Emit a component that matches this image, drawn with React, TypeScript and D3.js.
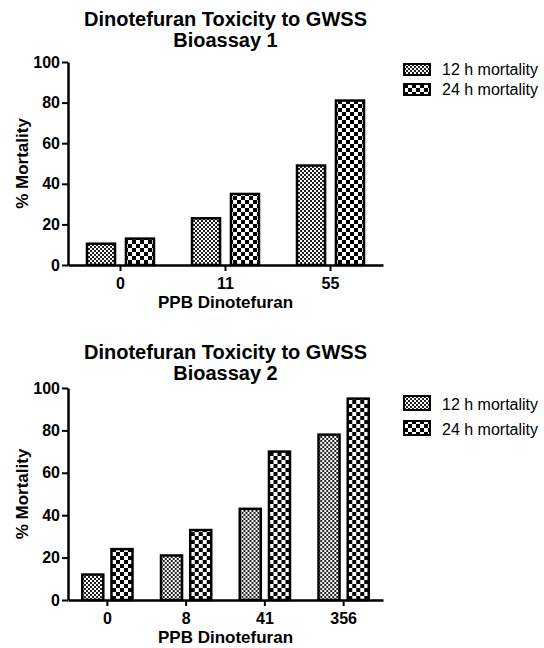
import React, { useEffect, useRef } from "react";
import * as d3 from "d3";

// Bioassay 1
const doses1 = ["0", "11", "55"];
const mort12h1 = [10.5, 23, 49];
const mort24h1 = [13, 35, 81];

// Bioassay 2
const doses2 = ["0", "8", "41", "356"];
const mort12h2 = [12, 21, 43, 78];
const mort24h2 = [24, 33, 70, 95];

const seriesNames = ["12 h mortality", "24 h mortality"];
const yTickValues = [0, 20, 40, 60, 80, 100];

const FONT = "'Liberation Sans', Arial, Helvetica, sans-serif";

const panels = [
  {
    title: "Dinotefuran Toxicity to GWSS",
    subtitle: "Bioassay 1",
    doses: doses1,
    values: [mort12h1, mort24h1],
    y0: 265,
    y100: 62,
    titleY: 26,
    subtitleY: 47,
    legendY: [64, 84],
    legendH: 11,
  },
  {
    title: "Dinotefuran Toxicity to GWSS",
    subtitle: "Bioassay 2",
    doses: doses2,
    values: [mort12h2, mort24h2],
    y0: 600,
    y100: 388,
    titleY: 359,
    subtitleY: 380,
    legendY: [396, 421],
    legendH: 14,
  },
];

const App = () => {
  const svgRef = useRef<SVGSVGElement>(null);

  useEffect(() => {
    const svg = d3.select(svgRef.current);
    svg.selectAll("*").remove();

    const defs = svg.append("defs");

    // fine checker for 12 h
    const p12 = defs
      .append("pattern")
      .attr("id", "pat12")
      .attr("patternUnits", "userSpaceOnUse")
      .attr("width", 4)
      .attr("height", 4);
    p12.append("rect").attr("width", 4).attr("height", 4).attr("fill", "#fff");
    p12.append("rect").attr("width", 2).attr("height", 2).attr("fill", "#222");
    p12
      .append("rect")
      .attr("x", 2)
      .attr("y", 2)
      .attr("width", 2)
      .attr("height", 2)
      .attr("fill", "#222");

    // coarse checker for 24 h
    const p24 = defs
      .append("pattern")
      .attr("id", "pat24")
      .attr("patternUnits", "userSpaceOnUse")
      .attr("width", 8)
      .attr("height", 8);
    p24.append("rect").attr("width", 8).attr("height", 8).attr("fill", "#fff");
    p24.append("rect").attr("width", 4).attr("height", 4).attr("fill", "#000");
    p24
      .append("rect")
      .attr("x", 4)
      .attr("y", 4)
      .attr("width", 4)
      .attr("height", 4)
      .attr("fill", "#000");

    const fills = ["url(#pat12)", "url(#pat24)"];
    const left = 68;
    const right = 383;

    panels.forEach((p) => {
      const g = svg.append("g");

      const x0 = d3
        .scaleBand()
        .domain(p.doses)
        .range([left, right])
        .paddingInner(0)
        .paddingOuter(0);

      const bw = x0.bandwidth();
      const x1 = d3
        .scaleBand()
        .domain(seriesNames)
        .range([bw * 0.181, bw * 0.819])
        .paddingInner(0.28)
        .paddingOuter(0);

      const y = d3.scaleLinear().domain([0, 100]).range([p.y0, p.y100]);

      // Bars
      const rows = p.doses.map((d, i) =>
        seriesNames.map((s, k) => ({ dose: d, key: s, k, value: p.values[k][i] }))
      );

      g.append("g")
        .selectAll("g")
        .data(rows)
        .join("g")
        .attr("transform", (d) => `translate(${x0(d[0].dose)},0)`)
        .selectAll("rect")
        .data((d) => d)
        .join("rect")
        .attr("x", (d) => x1(d.key)!)
        .attr("y", (d) => y(d.value))
        .attr("width", x1.bandwidth())
        .attr("height", (d) => p.y0 - y(d.value))
        .attr("fill", (d) => fills[d.k])
        .attr("stroke", "#000")
        .attr("stroke-width", 2.5);

      // Y axis
      const yAxis = g
        .append("g")
        .attr("transform", `translate(${left},0)`)
        .call(
          d3
            .axisLeft(y)
            .tickValues(yTickValues)
            .tickSize(6)
            .tickSizeOuter(0)
            .tickPadding(2)
        );
      yAxis.select(".domain").attr("stroke-width", 2.5);
      yAxis.selectAll(".tick line").attr("stroke-width", 2);
      yAxis
        .selectAll("text")
        .style("font-family", FONT)
        .style("font-size", "16px")
        .style("font-weight", "bold")
        .attr("fill", "#000");

      // X axis
      const xAxis = g
        .append("g")
        .attr("transform", `translate(0,${p.y0})`)
        .call(d3.axisBottom(x0).tickSize(6).tickSizeOuter(0).tickPadding(7));
      xAxis.select(".domain").attr("stroke-width", 2.5);
      xAxis.selectAll(".tick line").attr("stroke-width", 2);
      xAxis
        .selectAll("text")
        .style("font-family", FONT)
        .style("font-size", "16px")
        .style("font-weight", "bold")
        .attr("fill", "#000");

      const cx = (left + right) / 2;

      // Title
      [p.title, p.subtitle].forEach((t, i) => {
        g.append("text")
          .attr("x", cx)
          .attr("y", i === 0 ? p.titleY : p.subtitleY)
          .attr("text-anchor", "middle")
          .style("font-family", FONT)
          .style("font-size", "20px")
          .style("font-weight", "bold")
          .text(t);
      });

      // Axis labels
      g.append("text")
        .attr("x", cx)
        .attr("y", p.y0 + 43)
        .attr("text-anchor", "middle")
        .style("font-family", FONT)
        .style("font-size", "17px")
        .style("font-weight", "bold")
        .text("PPB Dinotefuran");

      g.append("text")
        .attr("transform", `translate(28,${(p.y0 + p.y100) / 2}) rotate(-90)`)
        .attr("text-anchor", "middle")
        .style("font-family", FONT)
        .style("font-size", "17px")
        .style("font-weight", "bold")
        .text("% Mortality");

      // Legend
      seriesNames.forEach((s, k) => {
        g.append("rect")
          .attr("x", 404)
          .attr("y", p.legendY[k])
          .attr("width", 26)
          .attr("height", p.legendH)
          .attr("fill", fills[k])
          .attr("stroke", "#000")
          .attr("stroke-width", 2);
        g.append("text")
          .attr("x", 442)
          .attr("y", p.legendY[k] + p.legendH)
          .style("font-family", FONT)
          .style("font-size", "16px")
          .text(s);
      });
    });
  }, []);

  return (
    <svg
      ref={svgRef}
      width={544}
      height={648}
      style={{ position: "absolute", left: 0, top: 0, background: "#fff" }}
    ></svg>
  );
};

export default App;
